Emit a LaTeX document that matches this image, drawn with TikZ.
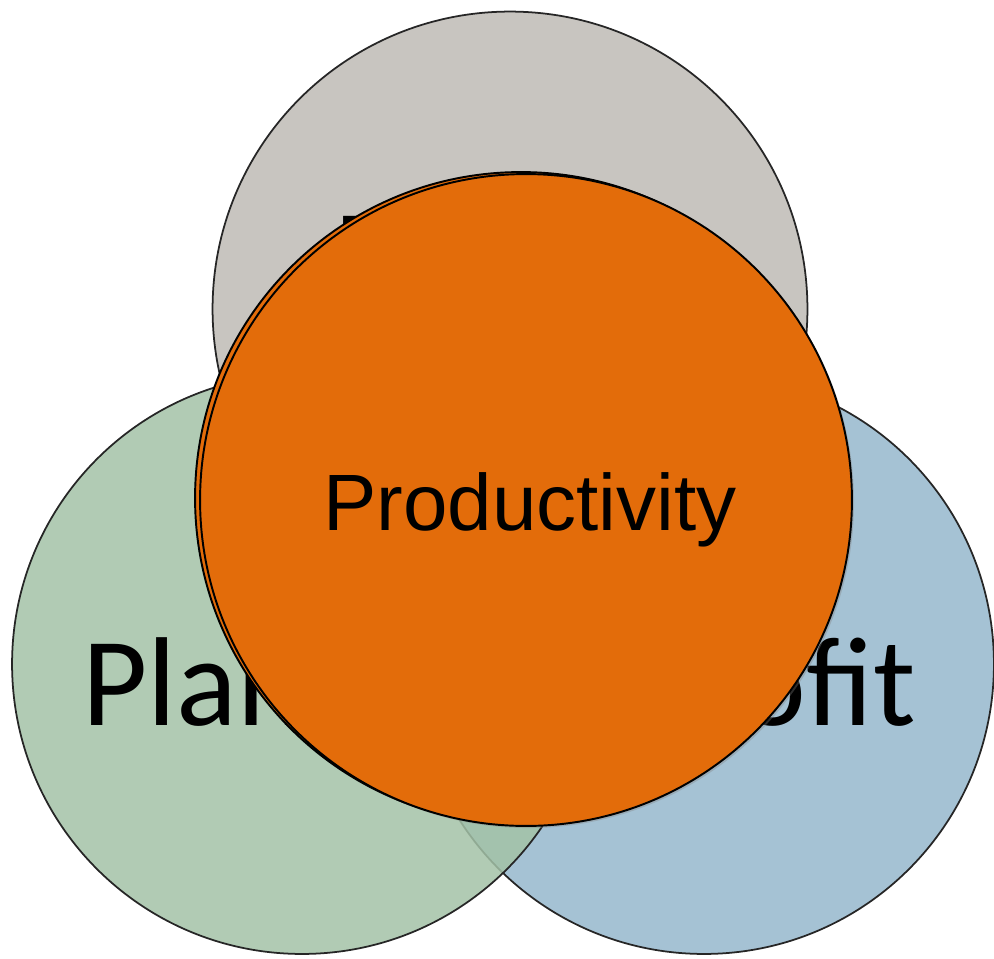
\documentclass[tikz,border=0pt]{standalone}
\usepackage{fontspec}
\setmainfont{Liberation Sans}
\newfontfamily\pillarfont{Carlito}
\usetikzlibrary{shadows}

\definecolor{peoplegray}{RGB}{200,197,192}
\definecolor{planetgreen}{RGB}{163,194,167}
\definecolor{profitblue}{RGB}{165,194,212}
\definecolor{prodorange}{RGB}{227,108,10}

\begin{document}
\begin{tikzpicture}[
  x=0.02cm, y=-0.02cm,
  venn/.style={draw=black!85, circle, line width=1pt,
               inner sep=0pt, outer sep=0pt, minimum size=11.6cm},
  pillar/.style={font=\pillarfont\fontsize{72}{80}\selectfont, inner sep=0pt},
  core/.style={draw=black, circle, line width=1.1pt, fill=prodorange,
               inner sep=0pt, outer sep=0pt, minimum size=13.04cm},
  corelabel/.style={font=\fontsize{45.5}{50}\selectfont, inner sep=0pt}
]
\useasboundingbox (0,0) rectangle (994,958);

%% Three pillars
\node[venn, fill=peoplegray, minimum size=11.9cm] (people) at (510,309) {};
\node[pillar, anchor=base west] (peoplelabel) at (334,297) {People};
\node[venn, fill=profitblue] (profit) at (704,664) {};
\node[pillar, anchor=base east] (profitlabel) at (916,725) {Profit};
\node[venn, fill=planetgreen, fill opacity=0.85] (planet) at (302,664) {};
\node[pillar, anchor=base west] (planetlabel) at (82,725) {Planet};

%% Centre circle (doubled outline)
\node[core] (coreback) at (521,498) {};
\node[core, drop shadow={shadow xshift=1.2pt, shadow yshift=-1.2pt, opacity=0.35}]
  (core) at (526,500) {};
\node[corelabel, anchor=base] (prodlabel) at (530,530) {Productivity};

\end{tikzpicture}
\end{document}
